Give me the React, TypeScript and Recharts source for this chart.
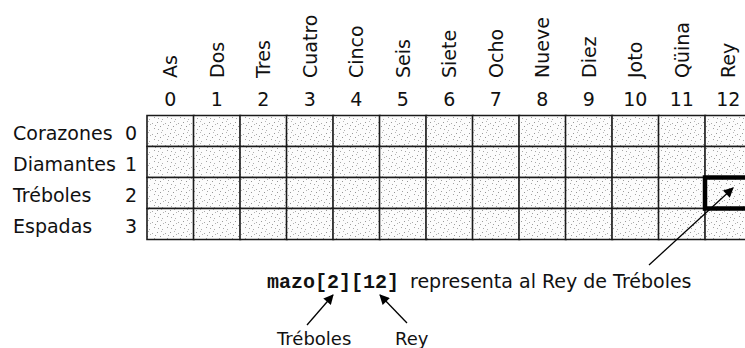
import { BarChart, Bar, XAxis, YAxis, ReferenceArea } from "recharts";

// card ranks (columns) and suits (rows) of the deck array
const rankNames = ["As", "Dos", "Tres", "Cuatro", "Cinco", "Seis", "Siete", "Ocho", "Nueve", "Diez", "Joto", "Qüina", "Rey"];
const rankIndex = [0, 1, 2, 3, 4, 5, 6, 7, 8, 9, 10, 11, 12];
const suitNames = ["Corazones", "Diamantes", "Tréboles", "Espadas"];
const suitIndex = [0, 1, 2, 3];
const suitKeys = ["c", "d", "t", "e"];
// every cell of the array is one unit tall
const cellValue = [1, 1, 1, 1];
const selectedSuit = 2;
const selectedRank = 12;

const data = rankIndex.map((r) => {
  const row: Record<string, number> = { num: r };
  suitKeys.forEach((k, i) => (row[k] = cellValue[i]));
  return row;
});

const FONT = "'DejaVu Sans', sans-serif";
const MONO = "'Liberation Mono', 'DejaVu Sans Mono', monospace";

function RankTick(props: any) {
  const { x, y, payload } = props;
  const i = payload.value;
  return (
    <g fontFamily={FONT} fontSize={19} fill="#111">
      <text x={x} y={y - 9.5} textAnchor="middle">
        {i}
      </text>
      <text
        x={x + 7}
        y={y - 37.5}
        textAnchor="start"
        transform={`rotate(-90 ${x + 7} ${y - 37.5})`}
      >
        {rankNames[i]}
      </text>
    </g>
  );
}

function SuitTick(props: any) {
  const { x, y, payload } = props;
  const i = Math.floor(payload.value);
  return (
    <g fontFamily={FONT} fontSize={19} fill="#111">
      <text x={x - 134} y={y + 8.5} textAnchor="start">
        {suitNames[i]}
      </text>
      <text x={x - 10} y={y + 8.5} textAnchor="end">
        {suitIndex[i]}
      </text>
    </g>
  );
}

// caption and arrows drawn over the chart
function Annotations() {
  return (
    <svg
      width={745}
      height={348}
      style={{ position: "absolute", left: 0, top: 0, pointerEvents: "none" }}
    >
      <defs>
        <marker id="head" viewBox="0 0 10 10" refX="9" refY="5" markerWidth="14" markerHeight="10" markerUnits="userSpaceOnUse" orient="auto">
          <path d="M0,0 L10,5 L0,10 z" fill="#000" />
        </marker>
      </defs>
      <text x={267} y={288} fontFamily={MONO} fontWeight="bold" fontSize={20} fill="#111">
        mazo[2][12]
      </text>
      <text x={410} y={288} fontFamily={FONT} fontSize={19} fill="#111">
        representa al Rey de Tréboles
      </text>
      <text x={277} y={345} fontFamily={FONT} fontSize={18} fill="#111">
        Tréboles
      </text>
      <text x={395} y={345} fontFamily={FONT} fontSize={18} fill="#111">
        Rey
      </text>
      <line x1={649} y1={265} x2={733} y2={188} stroke="#000" strokeWidth={1.3} markerEnd="url(#head)" />
      <line x1={307} y1={325} x2={333} y2={295} stroke="#000" strokeWidth={1.3} markerEnd="url(#head)" />
      <line x1={407} y1={323} x2={380} y2={295} stroke="#000" strokeWidth={1.3} markerEnd="url(#head)" />
    </svg>
  );
}

export default function App() {
  return (
    <div
      style={{
        position: "absolute",
        left: 0,
        top: 0,
        width: 745,
        height: 348,
        overflow: "hidden",
        background: "#fff",
      }}
    >
      <svg width={0} height={0} style={{ position: "absolute" }}>
        <defs>
          <pattern id="speck" width="13" height="11" patternUnits="userSpaceOnUse">
            <rect width="13" height="11" fill="#fcfcfc" />
            <rect x="1" y="1" width="1" height="1" fill="#9a9a9a" />
            <rect x="9" y="2" width="1" height="1" fill="#aaa" />
            <rect x="4" y="5" width="1" height="1" fill="#969696" />
            <rect x="11" y="7" width="1" height="1" fill="#a4a4a4" />
            <rect x="6" y="9" width="1" height="1" fill="#b0b0b0" />
            <rect x="2" y="8" width="1" height="1" fill="#a8a8a8" />
            <rect x="7" y="3" width="1" height="1" fill="#b4b4b4" />
            <rect x="12" y="4" width="1" height="1" fill="#a0a0a0" />
            <rect x="5" y="0" width="1" height="1" fill="#b8b8b8" />
          </pattern>
        </defs>
      </svg>
      <BarChart
        width={752}
        height={348}
        data={data}
        margin={{ top: 85.5, right: 0.5, bottom: 108.5, left: 0 }}
        barCategoryGap={0}
      >
        <XAxis
          dataKey="num"
          orientation="top"
          height={30}
          axisLine={false}
          tickLine={false}
          tickSize={0}
          tickMargin={0}
          interval={0}
          tick={<RankTick />}
        />
        <YAxis
          type="number"
          domain={[0, 4]}
          reversed
          ticks={[0.5, 1.5, 2.5, 3.5]}
          width={147}
          axisLine={false}
          tickLine={false}
          tickSize={0}
          tickMargin={0}
          interval={0}
          tick={<SuitTick />}
        />
        {suitKeys.map((k) => (
          <Bar
            key={k}
            dataKey={k}
            stackId="deck"
            fill="url(#speck)"
            stroke="#1a1a1a"
            strokeWidth={1.6}
            isAnimationActive={false}
          />
        ))}
        <ReferenceArea
          x1={selectedRank}
          x2={selectedRank}
          y1={selectedSuit}
          y2={selectedSuit + 1}
          fill="none"
          fillOpacity={0}
          stroke="#000"
          strokeWidth={4.5}
          ifOverflow="visible"
          zIndex={2000}
        />
      </BarChart>
      <Annotations />
    </div>
  );
}
